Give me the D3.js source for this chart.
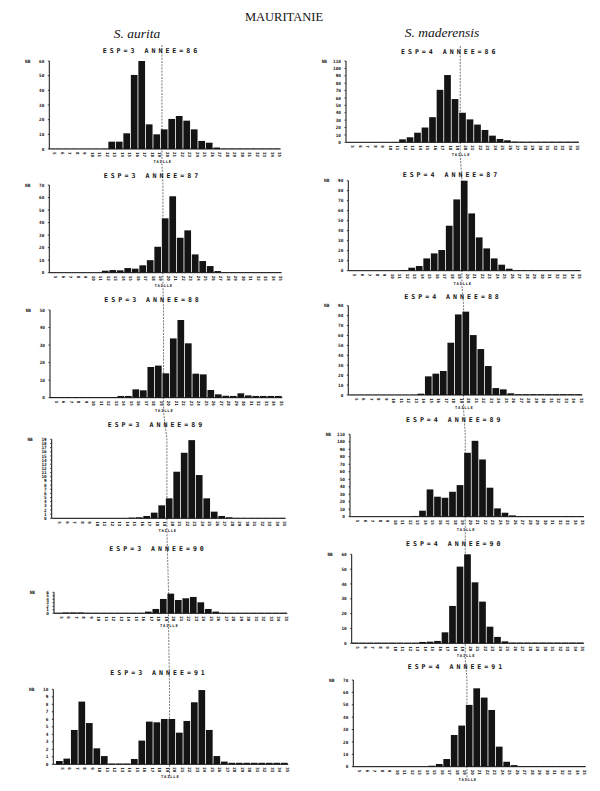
<!DOCTYPE html>
<html>
<head>
<meta charset="utf-8">
<script src="https://cdn.jsdelivr.net/npm/d3@7"></script>
<style>
  body { margin: 0; background: #fff; }
  text { fill: #111; }
</style>
</head>
<body>
<div id="chart"></div>
<script>
// length classes (cm)
const classes = d3.range(5, 36);
const years = ['86', '87', '88', '89', '90', '91'];

// S. aurita (ESP=3)
const aurita86 = [0.2,0.2,0.2,0.2,0.2,0.2,0.2,0.2,5,5,10.7,50.5,60,16.8,10,13.4,20.5,22.5,19.3,13.4,5.5,4.3,1,0.3,0.3,0.3,0.3,0.3,0.3,0.3,0.3];
const aurita87 = [0.2,0.2,0.2,0.2,0.2,0.2,0.2,1.6,2.1,1.9,3.7,3.2,5.9,10,20.7,43.4,61,27.9,33.8,14.6,9.3,5.3,1.3,0.4,0.4,0.4,0.4,0.4,0.4,0.4,0.4];
const aurita88 = [0.4,0.4,0.4,0.4,0.4,0.4,0.4,0.4,0.4,1,1,4.75,4.2,17.5,18.3,13.9,33.8,44.3,31,13.7,13.3,4.4,1.9,1.1,1,2.5,1.3,1,1,1,1];
const aurita89 = [0.08,0.08,0.08,0.08,0.08,0.08,0.08,0.08,0.08,0.08,0.16,0.24,0.56,1.36,3.12,4.8,11.2,15.76,18.8,10.4,4.8,1.6,0.56,0.24,0.1,0.1,0.1,0.1,0.1,0.1,0.1];
const aurita90 = [0.15,0.25,0.25,0.25,0.15,0.15,0.15,0.15,0.15,0.15,0.15,0.15,0.48,1.24,4.1,5.62,3.8,4.29,4.67,3.14,1.24,0.48,0.15,0.15,0.15,0.15,0.15,0.15,0.15,0.15,0.15];
const aurita91 = [0.44,0.76,4.58,8.36,5.5,2.13,1.1,0.1,0.1,0.1,0.71,3.16,5.69,5.6,6.04,6.04,4.22,5.78,8.27,9.9,4.58,1.1,0.36,0.2,0.2,0.2,0.2,0.2,0.2,0.2,0.2];
const auritaYMax = [60, 70, 50, 19, 6, 10];
const auritaYStep = [10, 10, 10, 1, 1, 1];

// S. maderensis (ESP=4)
const maderensis86 = [0.3,0.3,0.3,0.3,0.3,0.3,0.5,4,6.8,13,20,34,71,91,58.5,40,31,24,16.7,9,4.5,2.7,1,0.8,0.8,0.8,0.8,0.8,0.8,0.8,0.8];
const maderensis87 = [0.3,0.3,0.3,0.3,0.3,0.3,0.3,0.7,3,4.7,12.3,17.3,20.7,45,71.3,90,57.3,33.3,22.3,12.3,6,2,0.5,0.5,0.5,0.5,0.5,0.5,0.5,0.5,0.5];
const maderensis88 = [0.3,0.3,0.3,0.3,0.3,0.3,0.3,0.3,0.3,1.3,18.8,21.5,24.2,52.7,81.2,84,60.4,46.3,29.2,7,5.7,1.7,0.8,0.8,0.8,0.8,0.8,0.8,0.8,0.8,0.8];
const maderensis89 = [0.3,0.3,0.3,0.3,0.3,0.3,0.3,0.3,1,8,36.4,26.7,25.3,33.3,42.2,85.3,101.3,76.4,38.7,11.1,5.3,1.8,0.8,0.8,0.8,0.8,0.8,0.8,0.8,0.8,0.8];
const maderensis90 = [0.4,0.4,0.4,0.4,0.4,0.4,0.4,0.4,0.4,0.9,1.1,1.6,7.4,25.2,51.7,60,41.1,28.1,11.2,4.3,1.3,0.5,0.5,0.5,0.5,0.5,0.5,0.5,0.5,0.5,0.5];
const maderensis91 = [0.3,0.3,0.3,0.3,0.3,0.3,0.3,0.3,0.3,0.3,0.8,2.2,6.2,25.6,33.2,49.9,63.3,55.8,45.8,16.2,4,1.3,0.5,0.5,0.5,0.5,0.5,0.5,0.5,0.5,0.5];
const maderensisYMax = [110, 90, 90, 110, 60, 70];
const maderensisYStep = [10, 10, 10, 10, 10, 10];

// class where the dotted reference line crosses each column
const refClass = 19.7;

const columns = [
  { esp: 3, name: 'S. aurita', series: [aurita86, aurita87, aurita88, aurita89, aurita90, aurita91],
    yMax: auritaYMax, yStep: auritaYStep },
  { esp: 4, name: 'S. maderensis', series: [maderensis86, maderensis87, maderensis88, maderensis89, maderensis90, maderensis91],
    yMax: maderensisYMax, yStep: maderensisYStep }
];

// page layout (measured off the scan, which is slightly skewed)
const layout = [
  { nameX: 137, nameY: 38, panels: [
    { axisX: 49.3, x0: 51.7, top: 61,    base: 149,   titleY: 53 },
    { axisX: 49.3, x0: 52.7, top: 185,   base: 272.7, titleY: 178 },
    { axisX: 50,   x0: 53.3, top: 310,   base: 397.7, titleY: 302 },
    { axisX: 51.7, x0: 56.7, top: 439.3, base: 518.3, titleY: 427 },
    { axisX: 54,   x0: 58.3, top: 592.3, base: 613.3, titleY: 551 },
    { axisX: 53.3, x0: 59.3, top: 689.3, base: 764.3, titleY: 675 }
  ]},
  { nameX: 442, nameY: 37, panels: [
    { axisX: 346,   x0: 350,   top: 61,    base: 142.3, titleY: 54 },
    { axisX: 348.3, x0: 351.7, top: 180.7, base: 270.7, titleY: 177 },
    { axisX: 348.3, x0: 353.3, top: 305.7, base: 395,   titleY: 299 },
    { axisX: 350,   x0: 355,   top: 434.3, base: 516.7, titleY: 422 },
    { axisX: 351.7, x0: 355,   top: 554.3, base: 643.3, titleY: 546 },
    { axisX: 353.3, x0: 356.7, top: 680,   base: 766.7, titleY: 669 }
  ]}
];

const width = 600, height = 791;
const step = 7.5; // px per length class

const svg = d3.select('#chart').append('svg')
  .attr('width', width)
  .attr('height', height)
  .attr('viewBox', `0 0 ${width} ${height}`);

svg.append('text')
  .attr('x', 284).attr('y', 21)
  .attr('text-anchor', 'middle')
  .attr('font-family', 'Liberation Serif, serif')
  .attr('font-size', 12.5)
  .text('MAURITANIE');

columns.forEach((col, ci) => {
  const lay = layout[ci];

  svg.append('text')
    .attr('x', lay.nameX).attr('y', lay.nameY)
    .attr('text-anchor', 'middle')
    .attr('font-family', 'Liberation Serif, serif')
    .attr('font-style', 'italic')
    .attr('font-size', 13.5)
    .text(col.name);

  const panels = lay.panels.map((p, i) => {
    const x = d3.scaleLinear()
      .domain([classes[0], classes[classes.length - 1]])
      .range([p.x0, p.x0 + step * (classes.length - 1)]);
    const y = d3.scaleLinear()
      .domain([0, col.yMax[i]])
      .range([p.base, p.top]);
    return { p, x, y, i };
  });

  // dotted reference line running down the whole column, behind the bars
  const refPts = [[panels[0].x(refClass), panels[0].p.titleY - 8]];
  panels.forEach(({ p, x }) => {
    refPts.push([x(refClass), p.top]);
    refPts.push([x(refClass), p.base + 14]);
  });
  svg.append('path')
    .attr('d', d3.line()(refPts))
    .attr('fill', 'none')
    .attr('stroke', '#555')
    .attr('stroke-width', 0.8)
    .attr('stroke-dasharray', '2,1.2');

  panels.forEach(({ p, x, y, i }) => {
    const g = svg.append('g');
    const data = col.series[i];

    // title
    g.append('text')
      .attr('x', x(classes[0] + 13.3)).attr('y', p.titleY)
      .attr('text-anchor', 'middle')
      .attr('font-family', 'DejaVu Sans Mono, monospace')
      .attr('font-weight', 'bold')
      .attr('font-size', 6.6)
      .attr('letter-spacing', 3.0)
      .text(`ESP=${col.esp}  ANNEE=${years[i]}`);

    // bars
    g.selectAll('rect.bar')
      .data(data)
      .join('rect')
      .attr('class', 'bar')
      .attr('x', (d, k) => x(classes[k]) - step / 2 + 0.4)
      .attr('width', step - 0.8)
      .attr('y', d => y(d))
      .attr('height', d => p.base - y(d))
      .attr('fill', '#141414');

    // y axis
    const yTicks = d3.range(0, col.yMax[i] + 1e-9, col.yStep[i]);
    g.append('line')
      .attr('x1', p.axisX).attr('x2', p.axisX)
      .attr('y1', p.base).attr('y2', y(col.yMax[i]))
      .attr('stroke', '#111').attr('stroke-width', 1);
    g.selectAll('line.yt')
      .data(yTicks)
      .join('line')
      .attr('class', 'yt')
      .attr('x1', p.axisX - 1.5).attr('x2', p.axisX)
      .attr('y1', d => y(d)).attr('y2', d => y(d))
      .attr('stroke', '#111').attr('stroke-width', 0.8);
    g.selectAll('text.yl')
      .data(yTicks)
      .join('text')
      .attr('class', 'yl')
      .attr('x', p.axisX - 5)
      .attr('y', d => y(d) + 1.6)
      .attr('text-anchor', 'end')
      .attr('font-family', 'DejaVu Sans Mono, monospace')
      .attr('font-weight', 'bold')
      .attr('font-size', 4.4)
      .text(d => d);
    g.append('text')
      .attr('x', p.axisX - 19)
      .attr('y', y(col.yMax[i]) + 1.6)
      .attr('text-anchor', 'end')
      .attr('font-family', 'DejaVu Sans Mono, monospace')
      .attr('font-weight', 'bold')
      .attr('font-size', 4.4)
      .text('NB');

    // x axis
    g.append('line')
      .attr('x1', p.axisX).attr('x2', x(classes[classes.length - 1]) + 4)
      .attr('y1', p.base).attr('y2', p.base)
      .attr('stroke', '#111').attr('stroke-width', 1);
    g.selectAll('text.xl')
      .data(classes)
      .join('text')
      .attr('class', 'xl')
      .attr('transform', d => `translate(${x(d) + 1.4},${p.base + 3}) rotate(90)`)
      .attr('font-family', 'DejaVu Sans Mono, monospace')
      .attr('font-weight', 'bold')
      .attr('font-size', 4.2)
      .text(d => d);
    g.append('text')
      .attr('x', x(classes[0] + 14.8)).attr('y', p.base + 14)
      .attr('text-anchor', 'middle')
      .attr('font-family', 'DejaVu Sans Mono, monospace')
      .attr('font-weight', 'bold')
      .attr('font-size', 3.8)
      .attr('letter-spacing', 0.8)
      .text('TAILLE');
  });
});
</script>
</body>
</html>
